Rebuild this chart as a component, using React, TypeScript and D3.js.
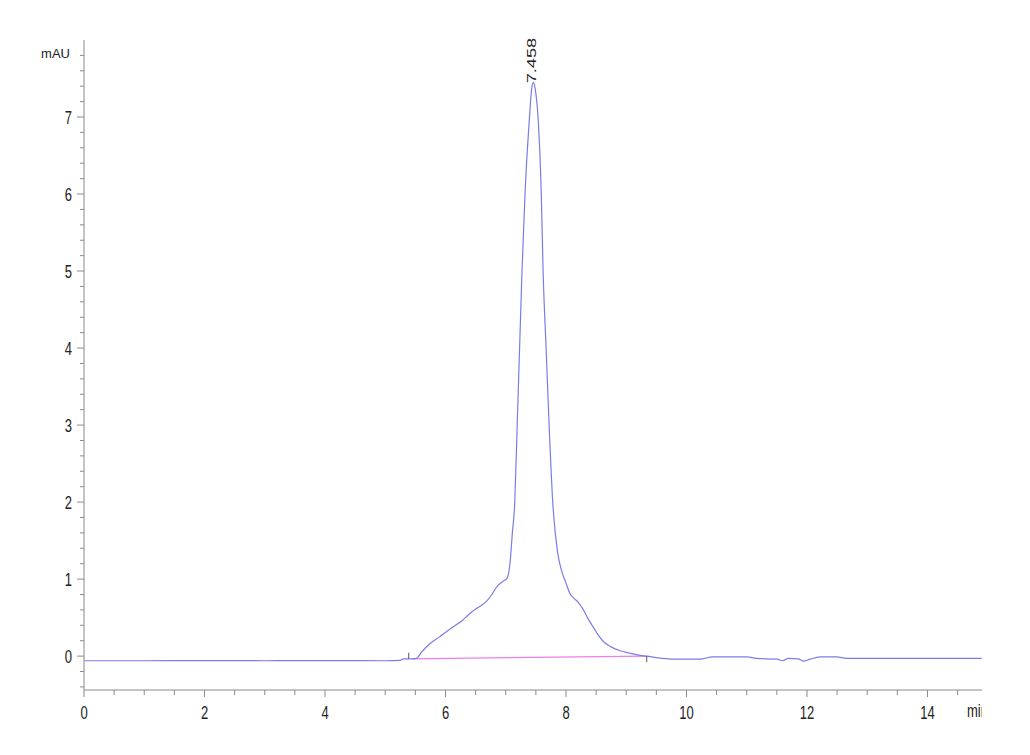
import React from "react";
import * as d3 from "d3";

// Chromatogram signal (min, mAU)
const times = [0, 1, 2, 3, 4, 5, 5.25, 5.3, 5.45, 5.52, 5.6, 5.74, 5.9, 6.02, 6.15, 6.29, 6.4, 6.52, 6.6, 6.68, 6.77, 6.85, 6.95, 7.02, 7.07, 7.11, 7.15, 7.19, 7.23, 7.27, 7.32, 7.39, 7.43, 7.458, 7.49, 7.54, 7.59, 7.62, 7.67, 7.72, 7.78, 7.86, 7.93, 8.0, 8.06, 8.12, 8.2, 8.29, 8.37, 8.45, 8.53, 8.62, 8.75, 8.9, 9.05, 9.23, 9.34, 9.5, 9.78, 10.22, 10.44, 11.0, 11.16, 11.5, 11.6, 11.69, 11.85, 11.95, 12.05, 12.22, 12.49, 12.66, 13.5, 14.9];
const signal = [-0.06, -0.06, -0.058, -0.06, -0.058, -0.06, -0.055, -0.035, -0.035, -0.03, 0.05, 0.16, 0.25, 0.32, 0.39, 0.47, 0.55, 0.62, 0.66, 0.71, 0.8, 0.9, 0.97, 1.01, 1.2, 1.6, 2.0, 3.0, 4.0, 5.0, 6.0, 6.95, 7.36, 7.45, 7.36, 6.95, 6.0, 5.0, 4.0, 3.0, 2.0, 1.35, 1.1, 0.95, 0.82, 0.76, 0.7, 0.6, 0.48, 0.38, 0.28, 0.19, 0.12, 0.07, 0.04, 0.01, 0.0, -0.02, -0.04, -0.04, -0.01, -0.01, -0.03, -0.04, -0.06, -0.03, -0.035, -0.065, -0.04, -0.01, -0.01, -0.03, -0.03, -0.03];

// Integration baseline
const baseTimes = [5.45, 9.34];
const baseValues = [-0.035, 0.0];

const xTickLabels = [0, 2, 4, 6, 8, 10, 12, 14];
const yTickLabels = [0, 1, 2, 3, 4, 5, 6, 7];
const peakTime = 7.458;
const peakValue = 7.45;
const peakLabel = "7.458";

export default function App() {
  const W = 1030, H = 755;
  const x = d3.scaleLinear().domain([0, 14.9]).range([84, 981.7]);
  const y = d3.scaleLinear().domain([-0.44, 8.0]).range([690, 40]);
  const pts: [number, number][] = times.map((t, i) => [t, signal[i]]);
  const line = d3.line<[number, number]>().x(d => x(d[0])).y(d => y(d[1])).curve(d3.curveMonotoneX);
  const bpts: [number, number][] = baseTimes.map((t, i) => [t, baseValues[i]]);
  const bline = d3.line<[number, number]>().x(d => x(d[0])).y(d => y(d[1]));

  const xMinor = d3.range(0, 14.91, 0.5);
  const yMinor = d3.range(-0.4, 8.0, 0.2).map(v => Math.round(v * 10) / 10);
  const axisColor = "#8a8a8a";
  const textColor = "#222";
  const font = "Arial, 'Liberation Sans', sans-serif";
  const sy = 1.4;

  return (
    <svg width={W} height={H} style={{ position: "absolute", left: 0, top: 0, background: "#fff" }}>
      <defs>
        <clipPath id="clip">
          <rect x={0} y={0} width={982} height={H} />
        </clipPath>
      </defs>
      <g clipPath="url(#clip)">
        {/* axes */}
        <line x1={x(0)} x2={x(0)} y1={40} y2={690} stroke={axisColor} strokeWidth={1} />
        <line x1={x(0)} x2={985} y1={690} y2={690} stroke={axisColor} strokeWidth={1} />
        {yMinor.map(v => {
          const major = Math.abs(v - Math.round(v)) < 1e-6;
          return <line key={"yt" + v} x1={x(0) - (major ? 7 : 4)} x2={x(0)} y1={y(v)} y2={y(v)} stroke={axisColor} />;
        })}
        {xMinor.map(v => {
          const major = Math.abs(v / 2 - Math.round(v / 2)) < 1e-6;
          return <line key={"xt" + v} x1={x(v)} x2={x(v)} y1={690} y2={690 + (major ? 7 : 5)} stroke={axisColor} />;
        })}
        {yTickLabels.map(v => (
          <text key={"yl" + v} transform={`translate(72,${y(v)}) scale(1,${sy})`} textAnchor="end" dy="0.36em"
            fontFamily={font} fontSize={13} fill={textColor}>{v}</text>
        ))}
        {xTickLabels.map(v => (
          <text key={"xl" + v} transform={`translate(${x(v)},719) scale(1,${sy})`} textAnchor="middle"
            fontFamily={font} fontSize={13} fill={textColor}>{v}</text>
        ))}
        <text transform={`translate(967,717) scale(1,${sy})`} fontFamily={font} fontSize={13} fill={textColor}>min</text>
        <text x={70} y={58} textAnchor="end" fontFamily={font} fontSize={13} fill={textColor}>mAU</text>

        {/* integration baseline */}
        <path d={bline(bpts) || ""} fill="none" stroke="#f07cf0" strokeWidth={1.3} />
        {/* signal */}
        <path d={line(pts) || ""} fill="none" stroke="#7c7ce8" strokeWidth={1.2} />
        {/* integration markers */}
        <line x1={x(5.39)} x2={x(5.39)} y1={y(-0.035) - 6} y2={y(-0.035)} stroke="#555" />
        <line x1={x(9.34)} x2={x(9.34)} y1={y(0)} y2={y(0) + 6} stroke="#555" />

        {/* peak label */}
        <text transform={`translate(${x(peakTime) + 2.5},${y(peakValue) + 1}) scale(1,${sy}) rotate(-90)`}
          fontFamily={font} fontSize={13} fill={textColor}>{peakLabel}</text>
      </g>
    </svg>
  );
}
